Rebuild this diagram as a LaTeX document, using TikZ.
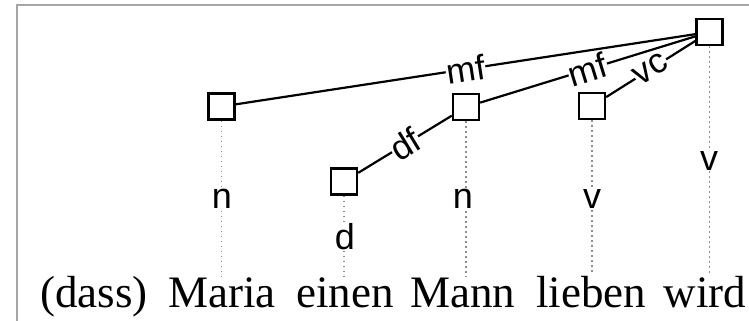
\documentclass[tikz,border=0pt]{standalone}
\usepackage{fontspec}
\setmainfont{Liberation Serif}
\newfontfamily\labelfont{Liberation Sans}
\usetikzlibrary{backgrounds}

\begin{document}
\begin{tikzpicture}[x=1pt,y=-1pt,
  head/.style={draw,line width=2.4pt,fill=white,minimum size=26pt,inner sep=0pt},
  word/.style={anchor=base,font=\fontsize{45}{50}\selectfont,inner sep=1pt},
  cat/.style={anchor=base,font=\labelfont\fontsize{36}{40}\selectfont,fill=white,inner sep=1pt},
  rel/.style={font=\labelfont\fontsize{35}{40}\selectfont,fill=white,inner sep=0.5pt,sloped,midway},
  dep/.style={line width=2.2pt},
  proj/.style={black!45,line width=1.5pt,dash pattern=on 1.5pt off 3.5pt},
  frame/.style={gray!70,line width=2pt}]
\useasboundingbox (0,0) rectangle (749,321);

% partial frame (top and left edges)
\draw[frame] (16.5,321) -- (16.5,5.5) -- (749,5.5);

% head boxes
\node[head] (hMaria)  at (221.5,106.5) {};
\node[head] (hEinen)  at (344,181.5) {};
\node[head] (hMann)   at (466,107) {};
\node[head] (hLieben) at (592,106) {};
\node[head] (hWird)   at (709.5,32) {};

% sentence
\node[word] (wDass)   at (94,307)  {(dass)};
\node[word] (wMaria)  at (222,307) {Maria};
\node[word] (wEinen)  at (345,307) {einen};
\node[word] (wMann)   at (463,307) {Mann};
\node[word] (wLieben) at (591,307) {lieben};
\node[word] (wWird)   at (705,307) {wird};

% categories
\node[cat] (cMaria)  at (222,208) {n};
\node[cat] (cEinen)  at (345,249) {d};
\node[cat] (cMann)   at (463,208) {n};
\node[cat] (cLieben) at (592,208) {v};
\node[cat] (cWird)   at (709,170) {v};

% projection lines
\begin{pgfonlayer}{background}
  \draw[proj] (hMaria.south)  -- (hMaria.south  |- wMaria.north);
  \draw[proj] (hEinen.south)  -- (hEinen.south  |- wEinen.north);
  \draw[proj] (hMann.south)   -- (hMann.south   |- wMann.north);
  \draw[proj] (hLieben.south) -- (hLieben.south |- wLieben.north);
  \draw[proj] (hWird.south)   -- (hWird.south   |- wWird.north);
\end{pgfonlayer}

% dependencies
\draw[dep] (hWird) -- node[rel] {mf} (hMaria);
\draw[dep] (hWird) -- node[rel] {mf} (hMann);
\draw[dep] (hWird) -- node[rel] {vc} (hLieben);
\draw[dep] (hMann) -- node[rel] {df} (hEinen);
\end{tikzpicture}
\end{document}
